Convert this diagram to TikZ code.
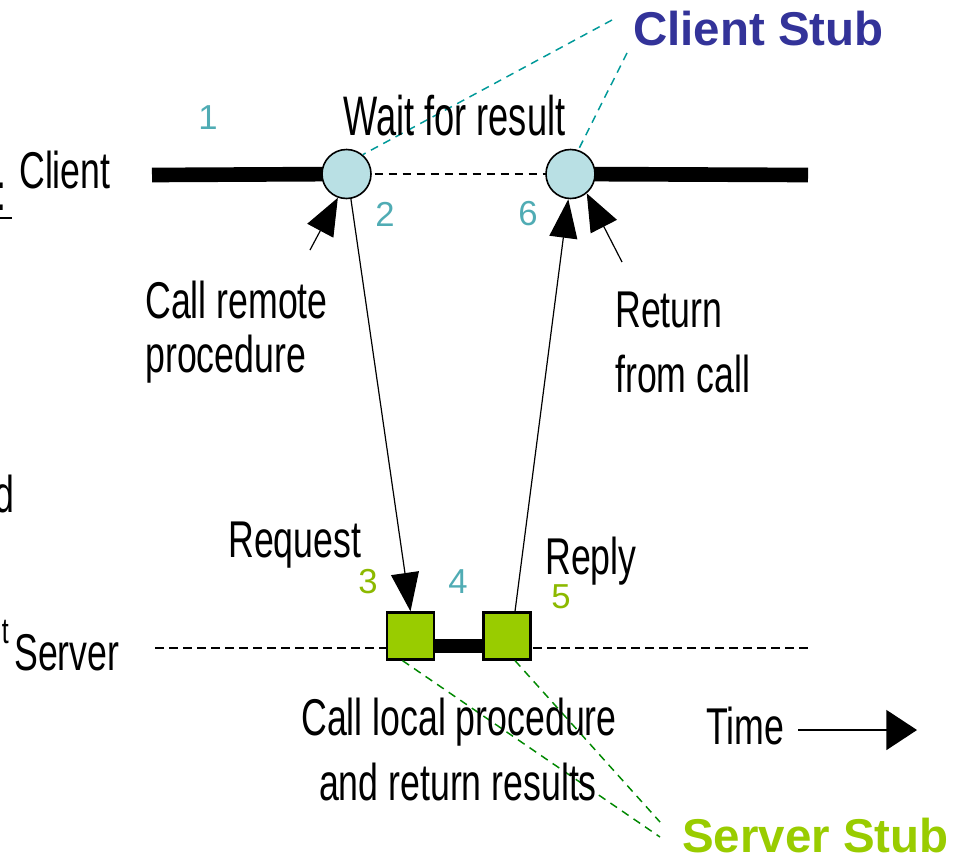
\documentclass[tikz,border=0pt]{standalone}
\usepackage{fontspec}
\setmainfont{Liberation Sans}
\newfontfamily\narrowfont[FakeStretch=0.69]{Liberation Sans}
\newfontfamily\narrowerfont[FakeStretch=0.65]{Liberation Sans}
\usetikzlibrary{arrows.meta,backgrounds}
\definecolor{stubblue}{RGB}{51,51,153}
\definecolor{stubgreen}{RGB}{153,204,0}
\definecolor{numteal}{RGB}{80,172,180}
\definecolor{numgreen}{RGB}{140,185,0}
\definecolor{circfill}{RGB}{185,224,228}
\definecolor{linkteal}{RGB}{0,153,153}
\definecolor{linkgreen}{RGB}{0,136,0}

\begin{document}
\begin{tikzpicture}[x=0.75pt,y=-0.75pt,
  lbl/.style={font=\narrowfont\fontsize{38.8}{44}\selectfont, inner sep=0pt},
  waitlbl/.style={font=\narrowerfont\fontsize{41.8}{46}\selectfont, inner sep=0pt},
  num/.style={font=\fontsize{26}{30}\selectfont, inner sep=0pt},
  stubname/.style={font=\bfseries\fontsize{35.6}{40}\selectfont, inner sep=0pt},
  event/.style={circle, draw=black, line width=1.2pt, fill=circfill,
                minimum size=36.75pt, inner sep=0pt},
  stubbox/.style={rectangle, draw=black, line width=1.6pt, fill=stubgreen,
                  minimum size=35.3pt, inner sep=0pt},
  thread/.style={line width=11pt},
  idle/.style={line width=1.1pt, dash pattern=on 6.5pt off 4pt},
  msg/.style={line width=0.9pt, -{Triangle[length=29pt,width=21pt]}},
  pointer/.style={line width=0.9pt, -{Triangle[length=28pt,width=22pt]}},
  stublink/.style={line width=1.1pt, dash pattern=on 6pt off 4.5pt}
]
\useasboundingbox (0,0) rectangle (962,864);

% client events and server stub boxes
\node[event] (c1) at (346.5,174) {};
\node[event] (c2) at (570.5,174) {};
\node[stubbox] (ss1) at (410.5,636) {};
\node[stubbox] (ss2) at (507,636) {};

% free ends of lines
\coordinate (cstart) at (152,175);
\coordinate (cend) at (808,175);
\coordinate (sstart) at (155,648);
\coordinate (send) at (808,648);
\coordinate (callfrom) at (310,250);
\coordinate (retfrom) at (622,262);
\coordinate (clinkA) at (612,20);
\coordinate (clinkB) at (627,53);
\coordinate (slinkA) at (660,837);
\coordinate (slinkB) at (660,822);
\coordinate (tfrom) at (798,730);
\coordinate (tto) at (917,730);

\begin{scope}[on background layer]
  % client timeline
  \draw[thread] (cstart) -- (c1.center);
  \draw[thread] (c2.center) -- (cend);
  \draw[idle] (c1.center) -- (c2.center);
  % server timeline
  \draw[idle] (sstart) -- (send);
  \draw[thread] ([yshift=-7.5pt]ss1.center) -- ([yshift=-7.5pt]ss2.center);
\end{scope}

% messages
\draw[msg] (c1.-80) -- (ss1.north);
\draw[msg] ([xshift=6pt]ss2.north) -- (c2.-95);
\draw[pointer] (callfrom) -- (c1.-110);
\draw[pointer] (retfrom) -- (c2.-50);

% stub callouts
\draw[stublink, linkteal] (clinkA) -- (c1.50);
\draw[stublink, linkteal] (clinkB) -- (c2.72);
\draw[stublink, linkgreen] ([xshift=-6pt]ss1.south) -- (slinkA);
\draw[stublink, linkgreen] ([xshift=6pt]ss2.south) -- (slinkB);

\node[stubname, text=stubblue, anchor=base west] (cstub) at (633,45) {Client Stub};
\node[stubname, text=stubgreen, anchor=base west] (sstub) at (682,852) {Server Stub};

% labels
\node[waitlbl, anchor=base west] (wait) at (343,135) {Wait for result};
\node[lbl, anchor=base west] (call1) at (145,318) {Call remote};
\node[lbl, anchor=base west] (call2) at (145,372) {procedure};
\node[lbl, anchor=base west] (ret1) at (615,327) {Return};
\node[lbl, anchor=base west] (ret2) at (615,392) {from call};
\node[lbl, anchor=base west] (req) at (228,557) {Request};
\node[lbl, anchor=base west] (rep) at (545,574) {Reply};
\node[lbl, anchor=base] (loc1) at (459,735) {Call local procedure};
\node[lbl, anchor=base] (loc2) at (458,800) {and return results};
\node[lbl, anchor=base west] (time) at (706,744) {Time};
\draw[line width=1.1pt, -{Triangle[length=23pt,width=30pt]}] (tfrom) -- (tto);

\node[lbl, anchor=base west] (client) at (19,188) {Client};
\node[lbl, anchor=base west] (server) at (14,670) {Server};

% step numbers
\node[num, text=numteal] (n1) at (208,118) {1};
\node[num, text=numteal] (n2) at (385,214) {2};
\node[num, text=numteal] (n6) at (528,214) {6};
\node[num, text=numgreen] (n3) at (368,582) {3};
\node[num, text=numteal] (n4) at (458,582) {4};
\node[num, text=numgreen] (n5) at (561,597) {5};

% fragments at the left edge
\node[lbl, anchor=base west] (dotA) at (-4,188) {.};
\node[lbl, anchor=base west] (dotB) at (-4,210) {.};
\draw[line width=2pt] (0,218) -- (12,218);
\node[lbl, anchor=base east] (fragd) at (15,512) {d};
\node[font=\narrowfont\fontsize{27}{30}\selectfont, inner sep=0pt, anchor=base east] (fragt) at (9,643) {t};
\end{tikzpicture}
\end{document}
